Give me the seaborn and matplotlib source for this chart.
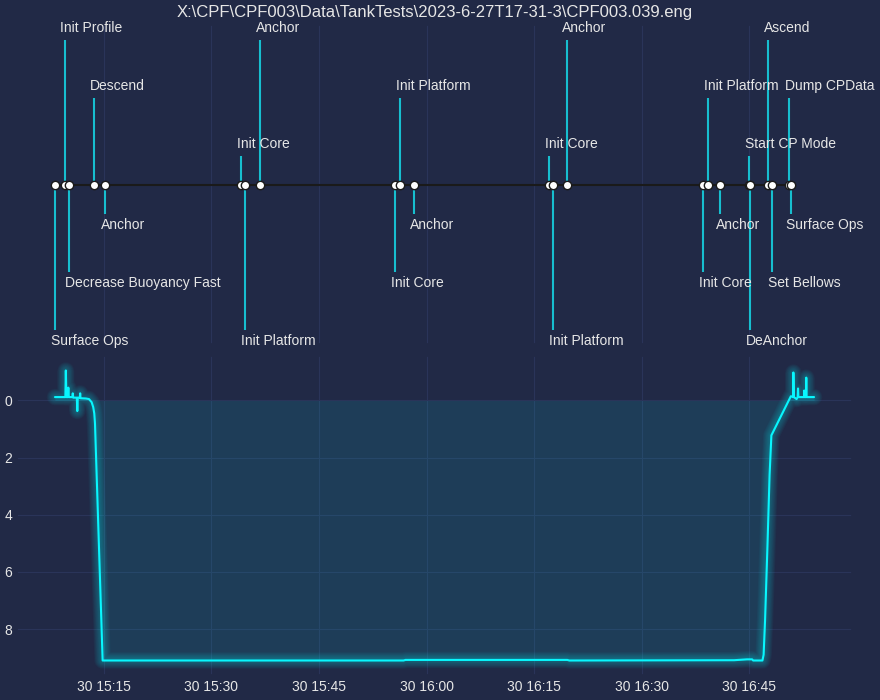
import numpy as np
import pandas as pd
import matplotlib
matplotlib.use("Agg")
import matplotlib.pyplot as plt
import matplotlib.dates as mdates
import seaborn as sns

TITLE = r"X:\CPF\CPF003\Data\TankTests\2023-6-27T17-31-3\CPF003.039.eng"
DAY = "2023-06-30 "

# ---- timeline events ----
event_names = ["Surface Ops", "Init Profile", "Decrease Buoyancy Fast", "Descend", "Anchor",
               "Init Core", "Init Platform", "Anchor",
               "Init Core", "Init Platform", "Anchor",
               "Init Core", "Init Platform", "Anchor",
               "Init Core", "Init Platform", "Anchor",
               "Start CP Mode", "DeAnchor", "Ascend", "Set Bellows", "Dump CPData", "Surface Ops"]
event_times = ["15:08:10", "15:09:31", "15:10:09", "15:13:36", "15:15:10",
               "15:34:11", "15:34:43", "15:36:44",
               "15:55:38", "15:56:16", "15:58:13",
               "16:17:08", "16:17:41", "16:19:32",
               "16:38:37", "16:39:13", "16:40:59",
               "16:45:00", "16:45:08", "16:47:36", "16:48:14", "16:50:32", "16:50:47"]
event_levels = [-5, 5, -3, 3, -1, 1,
                -5, 5, -3, 3, -1, 1,
                -5, 5, -3, 3, -1, 1,
                -5, 5, -3, 3, -1]

# ---- depth series ----
depth_times = ["15:08:10", "15:09:37", "15:09:41", "15:09:46", "15:09:58", "15:10:02", "15:10:06",
               "15:10:36", "15:10:39", "15:10:43", "15:11:13", "15:11:17", "15:11:21",
               "15:11:38", "15:11:41", "15:11:44", "15:12:29", "15:12:55", "15:13:17",
               "15:13:30", "15:13:39", "15:13:45", "15:14:49",
               "15:35:20", "15:56:47", "15:57:04", "16:19:38", "16:19:55",
               "16:42:54", "16:44:43", "16:45:25", "16:45:33",
               "16:46:51", "16:47:01", "16:47:13", "16:47:33", "16:47:51", "16:48:06",
               "16:50:49", "16:51:08", "16:51:10", "16:51:14", "16:51:37",
               "16:51:46", "16:51:49", "16:51:52", "16:52:39", "16:52:41", "16:52:44",
               "16:52:55", "16:52:58", "16:53:01", "16:54:03"]
depth_values = [-0.12, -0.12, -1.05, -0.12, -0.12, -0.45, -0.12,
                -0.12, -0.25, -0.10, -0.10, 0.37, -0.10,
                -0.10, -0.25, -0.08, -0.07, -0.05, 0.06,
                0.23, 0.45, 0.80, 9.10,
                9.10, 9.10, 9.08, 9.08, 9.10,
                9.09, 9.06, 9.06, 9.10,
                9.10, 8.90, 7.70, 5.10, 2.60, 1.22,
                -0.15, -0.12, -0.98, -0.12, -0.05,
                -0.12, -0.42, -0.12, -0.12, -0.35, -0.12,
                -0.12, -0.80, -0.12, -0.12]

BG = "#212946"
GRID = "#2A3459"
CYAN = "#08F7FE"

sns.set_theme(style="darkgrid", rc={
    "axes.facecolor": BG, "figure.facecolor": BG, "axes.edgecolor": BG,
    "savefig.facecolor": BG, "grid.color": GRID, "grid.linewidth": 0.8,
    "text.color": "0.9", "axes.labelcolor": "0.9",
    "xtick.color": "0.9", "ytick.color": "0.9",
    "xtick.major.size": 0, "ytick.major.size": 0,
    "font.size": 10, "axes.titlesize": 12,
    "xtick.labelsize": 10, "ytick.labelsize": 10,
    "lines.linewidth": 1.5,
})
plt.rcParams["font.family"] = ["Liberation Sans", "DejaVu Sans"]

ev = pd.DataFrame({
    "time": pd.to_datetime([DAY + t for t in event_times]),
    "name": event_names,
    "level": event_levels,
})
ev["zero"] = 0.0

df = pd.DataFrame({
    "time": pd.to_datetime([DAY + t for t in depth_times]),
    "depth": depth_values,
})

fig, (ax1, ax2) = plt.subplots(2, 1, figsize=(8.8, 7), dpi=100, sharex=True)
fig.subplots_adjust(left=17 / 880, right=852 / 880, top=1 - 25 / 700,
                    bottom=1 - 675 / 700, hspace=0.0376)

# ---- timeline ----
ax1.vlines(ev["time"].dt.to_pydatetime(), 0, ev["level"], color="tab:cyan", linewidth=1.5)
sns.lineplot(data=ev, x="time", y="zero", ax=ax1, color="k", marker="o",
             markerfacecolor="w", markeredgecolor="k", markeredgewidth=1.0,
             markersize=6, linewidth=1.5, estimator=None, sort=False)
for t, n, l in zip(ev["time"], ev["name"], ev["level"]):
    ax1.annotate(n, xy=(mdates.date2num(t), l), xytext=(-3, np.sign(l) * 3),
                 textcoords="offset points", ha="left",
                 va="bottom" if l > 0 else "top", fontsize=10, color="0.9")
ax1.yaxis.set_visible(False)
ax1.set_xlabel("")
ax1.set_ylabel("")
ax1.set_title(TITLE, fontsize=12, color="0.9")

# ---- depth profile with glow ----
for n in range(1, 11):
    sns.lineplot(data=df, x="time", y="depth", ax=ax2, color=CYAN,
                 linewidth=1.5 + 1.05 * n, alpha=0.3 / 10,
                 estimator=None, sort=False, legend=False)
sns.lineplot(data=df, x="time", y="depth", ax=ax2, color=CYAN, linewidth=1.5,
             estimator=None, sort=False, legend=False)
ax2.fill_between(df["time"].dt.to_pydatetime(), df["depth"], 0,
                 color=CYAN, alpha=0.1, linewidth=0)
ax2.invert_yaxis()
ax2.set_xlabel("")
ax2.set_ylabel("")

fig.savefig("out.png", dpi=100)
